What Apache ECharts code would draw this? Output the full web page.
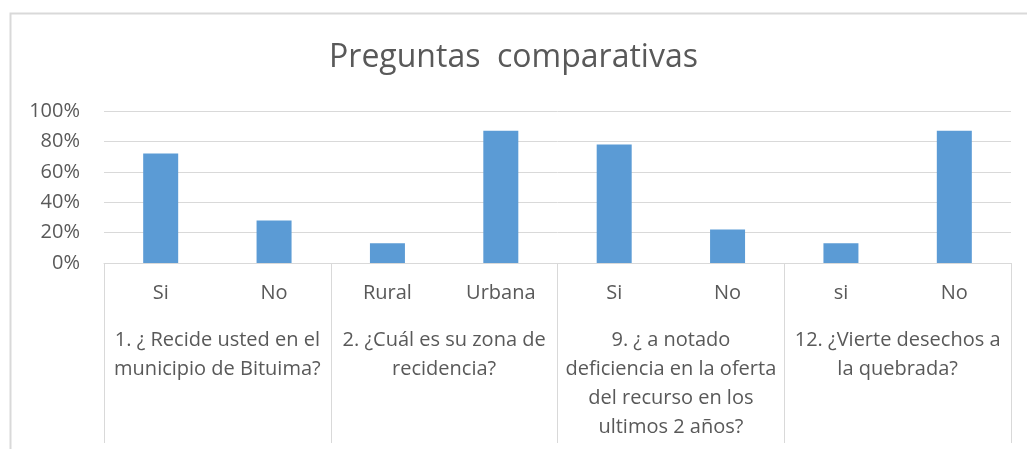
<!DOCTYPE html>
<html>
<head>
<meta charset="utf-8">
<script src="https://cdn.jsdelivr.net/npm/echarts@6/dist/echarts.min.js"></script>
<style>
  html, body { margin: 0; padding: 0; background: #fff; }
  #chart { width: 1027px; height: 449px; }
</style>
</head>
<body>
<div id="chart"></div>
<script>
var answers = ['Si', 'No', 'Rural', 'Urbana', 'Si', 'No', 'si', 'No'];
var questions = [
    '1. ¿ Recide usted en el\nmunicipio de Bituima?',
    '2. ¿Cuál es su zona de\nrecidencia?',
    '9. ¿ a notado\ndeficiencia en la oferta\ndel recurso en los\nultimos 2 años?',
    '12. ¿Vierte desechos a\nla quebrada?'
];
var shares = [0.72, 0.28, 0.13, 0.87, 0.78, 0.22, 0.13, 0.87];
var yTicks = [0, 0.2, 0.4, 0.6, 0.8, 1];

var textColor = '#595959';
var lineColor = '#d9d9d9';
var font = '"Open Sans", "Noto Sans", sans-serif';

var chart = echarts.init(document.getElementById('chart'));

chart.setOption({
    animation: false,
    textStyle: { fontFamily: font },
    title: {
        text: 'Preguntas  comparativas',
        left: 'center',
        top: 37,
        textStyle: { fontFamily: font, fontSize: 32, fontWeight: 'normal', color: textColor }
    },
    // chart area border (top and left only visible)
    graphic: [{
        type: 'polyline',
        shape: { points: [[10.5, 460], [10.5, 13.5], [1030, 13.5]] },
        style: { stroke: lineColor, lineWidth: 2, fill: null },
        silent: true
    }],
    grid: {
        left: 104,
        right: 16,
        top: 111,
        bottom: 186,
        containLabel: false,
        outerBoundsMode: 'none'
    },
    xAxis: [{
        type: 'category',
        data: answers,
        axisLine: { show: true, lineStyle: { color: lineColor, width: 1 } },
        axisTick: { show: false },
        axisLabel: {
            interval: 0,
            margin: 16,
            color: textColor,
            fontSize: 20,
            lineHeight: 29,
            fontFamily: font
        }
    }, {
        type: 'category',
        data: questions,
        position: 'bottom',
        axisLine: { show: false },
        axisTick: { show: true, length: 180, lineStyle: { color: lineColor, width: 1 } },
        axisLabel: {
            interval: 0,
            margin: 63,
            color: textColor,
            fontSize: 20,
            lineHeight: 29,
            align: 'center',
            fontFamily: font
        }
    }],
    yAxis: {
        type: 'value',
        min: yTicks[0],
        max: yTicks[yTicks.length - 1],
        interval: 0.2,
        axisLine: { show: false },
        axisTick: { show: false },
        splitLine: { lineStyle: { color: lineColor, width: 1 } },
        axisLabel: {
            margin: 24,
            color: textColor,
            fontSize: 20,
            fontFamily: font,
            formatter: function(v) { return Math.round(v * 100) + '%'; }
        }
    },
    series: [{
        type: 'bar',
        data: shares,
        xAxisIndex: 0,
        barWidth: 35,
        itemStyle: { color: '#5B9BD5' }
    }]
});
</script>
</body>
</html>
